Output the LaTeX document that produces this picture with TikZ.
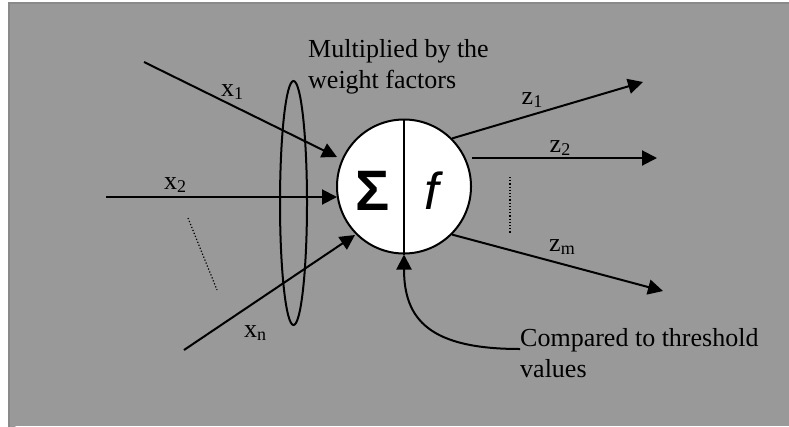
\documentclass[tikz,border=0pt]{standalone}
\usepackage{fontspec}
\setmainfont{Liberation Serif}
\newfontfamily\symfont{Liberation Sans}
\usetikzlibrary{arrows.meta, calc, positioning, shapes.geometric}
\definecolor{bggray}{HTML}{999999}
\definecolor{framegray}{HTML}{8A8A8A}
\newcommand{\lowidx}[1]{\raisebox{-0.15em}{\fontsize{18}{18}\selectfont #1}}
\tikzset{
  % connectors
  arr/.style={-{Triangle[length=15pt, width=15pt]}, line width=2pt, black},
  plainline/.style={line width=2pt, black},
  dotline/.style={line width=1.2pt, dotted, black},
  % labels
  lbl/.style={font=\fontsize{26}{31}\selectfont, inner sep=0pt},
  note/.style={font=\fontsize{26}{31}\selectfont, align=left, inner sep=0pt, anchor=base west},
}
\begin{document}
\begin{tikzpicture}[x=1pt, y=-1pt]
  \useasboundingbox (0,0) rectangle (789,426);
  \fill[white] (0,0) rectangle (789,426);
  \draw[framegray, fill=bggray, line width=2pt] (790,3) -- (9,3) -- (9,430);
  \fill[bggray] (10,4) rectangle (789,426);

  % neuron
  \node[circle, draw, line width=2pt, fill=white, minimum size=134pt, inner sep=0pt] (cell) at (404,186.5) {};
  \draw[plainline] (cell.north) -- (cell.south);
  \node[font=\symfont\bfseries\fontsize{57}{57}\selectfont, inner sep=0pt] (sum) at (373,191) {Σ};
  \node[font=\symfont\itshape\fontsize{52}{52}\selectfont, inner sep=0pt] (act) at (432,191) {f};

  % weight ellipse
  \node[ellipse, draw, line width=2pt, minimum width=27pt, minimum height=244pt, inner sep=0pt] (wts) at (293.5,203) {};

  % inputs
  \coordinate (in1) at (144,62);
  \coordinate (in2) at (106,197);
  \coordinate (inn) at (184,350);
  \coordinate (tip1) at (337,157);
  \coordinate (tip2) at (337,197);
  \coordinate (tipn) at (355,235);
  \draw[arr] (in1) -- (tip1);
  \draw[arr] (in2) -- (tip2);
  \draw[arr] (inn) -- (tipn);
  \coordinate (dotA) at (188,218);
  \coordinate (dotB) at (217,290);
  \draw[dotline] (dotA) -- (dotB);
  \node[lbl] (x1) at (232,92) {x\lowidx{1}};
  \node[lbl] (x2) at (175,185) {x\lowidx{2}};
  \node[lbl] (xn) at (255,333) {x\lowidx{n}};

  % outputs
  \coordinate (out1) at (643,82);
  \coordinate (out2) at (657,158);
  \coordinate (outm) at (663,291);
  \draw[arr] (cell.45) -- (out1);
  \draw[arr] (cell.east |- 0,158) -- (out2);
  \draw[arr] (cell.-45) -- (outm);
  \coordinate (dotC) at (510,177);
  \coordinate (dotD) at (510,233);
  \draw[dotline] (dotC) -- (dotD);
  \node[lbl] (z1) at (532,100) {z\lowidx{1}};
  \node[lbl] (z2) at (560,148) {z\lowidx{2}};
  \node[lbl] (zm) at (562,247) {z\lowidx{m}};

  % notes
  \node[note] (weightnote) at (308,88) {Multiplied by the\\weight factors};
  \node[note] (thresh) at (520,377) {Compared to threshold\\values};
  \coordinate (threshin) at (520,349);
  \draw[arr] (threshin) .. controls (430,349) and (404,320) .. (cell.south);
\end{tikzpicture}
\end{document}
